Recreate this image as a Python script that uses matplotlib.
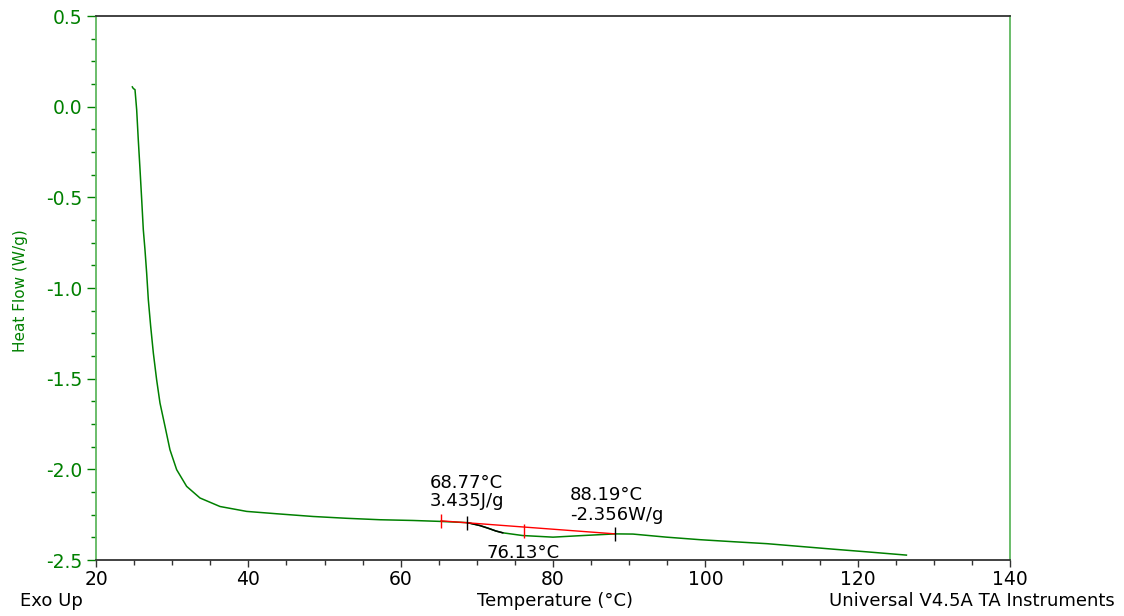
import numpy as np
import matplotlib
matplotlib.use("Agg")
import matplotlib.pyplot as plt

plt.rcParams['font.family'] = ['DejaVu Sans']

# DSC heat-flow trace (temperature in °C, heat flow in W/g)
temperature = [24.77, 24.90, 25.12, 25.34, 25.55, 25.78, 26.00, 26.21, 26.43,
               26.65, 26.87, 27.18, 27.53, 27.96, 28.40, 29.06, 29.71, 30.59,
               31.90, 33.65, 36.28, 39.78, 43.72, 48.50, 52.90, 57.30, 61.60,
               65.10, 68.77, 70.40, 71.50, 72.50, 73.40, 76.00, 80.00, 83.50,
               88.19, 90.50, 94.90, 99.30, 103.60, 108.10, 112.40, 116.70,
               121.20, 126.40]
heat_flow = [0.109, 0.100, 0.094, -0.017, -0.182, -0.347, -0.513, -0.678, -0.789,
             -0.917, -1.065, -1.212, -1.359, -1.506, -1.634, -1.763, -1.892, -2.002,
             -2.094, -2.158, -2.205, -2.232, -2.245, -2.260, -2.270, -2.278, -2.282,
             -2.287, -2.294, -2.310, -2.325, -2.340, -2.350, -2.365, -2.374, -2.366,
             -2.356, -2.357, -2.374, -2.388, -2.399, -2.410, -2.425, -2.440,
             -2.455, -2.473]

# Glass-transition analysis
onset_limits = [65.3, 88.19]          # baseline limits (red)
baseline_values = [-2.284, -2.356]
tg_onset = 68.77                      # °C
tg_mid = 76.13                        # °C
tg_end = 88.19                        # °C
delta_h = 3.435                       # J/g
hf_end = -2.356                       # W/g

x_ticks = [20, 40, 60, 80, 100, 120, 140]
y_ticks = [0.5, 0.0, -0.5, -1.0, -1.5, -2.0, -2.5]

green = '#008000'
light_green = '#5fb85f'
dark = '#333333'

fig = plt.figure(figsize=(11.24, 6.16), dpi=100)
ax = fig.add_axes([96 / 1124, 1 - 560 / 616, 914 / 1124, 544 / 616])

T = np.array(temperature)
H = np.array(heat_flow)
ax.plot(T, H, color=green, lw=1.1, zorder=3)

# integrated part of the transition drawn in black
seg = (T >= tg_onset) & (T <= 73.4)
ax.plot(T[seg], H[seg], color='black', lw=1.1, zorder=4)

# baseline
ax.plot(onset_limits, baseline_values, color='red', lw=1.0, zorder=4)

# analysis markers
red_x = [onset_limits[0], tg_mid]
red_y = [np.interp(onset_limits[0], T, H),
         0.5 * (np.interp(tg_mid, onset_limits, baseline_values) + np.interp(tg_mid, T, H))]
ax.plot(red_x, red_y, ls='none', marker='|', ms=10, mew=1.0, color='red', zorder=5)
blk_x = [tg_onset, tg_end]
blk_y = [np.interp(tg_onset, T, H), hf_end]
ax.plot(blk_x, blk_y, ls='none', marker='|', ms=10, mew=1.0, color='black', zorder=5)

fs = 13
ax.text(63.85, -2.074, f"{tg_onset:.2f}°C", fontsize=fs, ha='left', va='center')
ax.text(63.85, -2.173, f"{delta_h:.3f}J/g", fontsize=fs, ha='left', va='center')
ax.text(82.23, -2.14, f"{tg_end:.2f}°C", fontsize=fs, ha='left', va='center')
ax.text(82.23, -2.25, f"{hf_end:.3f}W/g", fontsize=fs, ha='left', va='center')
ax.text(tg_mid, -2.46, f"{tg_mid:.2f}°C", fontsize=fs, ha='center', va='center')

ax.set_xlim(20, 140)
ax.set_ylim(-2.5, 0.5)
ax.set_xticks(x_ticks)
ax.set_xticklabels([str(v) for v in x_ticks])
ax.set_xticks(np.arange(20, 141, 5), minor=True)
ax.set_yticks(y_ticks)
ax.set_yticklabels([f"{v:.1f}" for v in y_ticks])
ax.set_yticks(np.arange(-2.5, 0.51, 0.125), minor=True)

ax.tick_params(axis='x', which='major', direction='out', length=5.3, width=1.0,
               color=dark, labelsize=13.5, labelcolor='black', pad=2)
ax.tick_params(axis='x', which='minor', direction='out', length=3.6, width=1.0, color=dark)
ax.tick_params(axis='y', which='major', direction='out', length=6.5, width=1.0,
               color=green, labelsize=13.5, labelcolor=green, pad=3)
ax.tick_params(axis='y', which='minor', direction='out', length=3.6, width=1.0, color=green)

ax.spines['left'].set_color(light_green)
ax.spines['right'].set_color(light_green)
ax.spines['top'].set_color(dark)
ax.spines['bottom'].set_color(dark)
for s in ax.spines.values():
    s.set_linewidth(1.3)

fig.text(21 / 1124, 1 - 291 / 616, "Heat Flow (W/g)", color=green, fontsize=11,
         rotation=90, ha='center', va='center')

fig.text(20 / 1124, 1 - 601 / 616, "Exo Up", fontsize=fs, ha='left', va='center')
fig.text(555 / 1124, 1 - 601 / 616, "Temperature (°C)", fontsize=fs, ha='center', va='center')
fig.text(829 / 1124, 1 - 601 / 616, "Universal V4.5A TA Instruments", fontsize=fs,
         ha='left', va='center')

fig.savefig("out.png", dpi=100, facecolor='white')
